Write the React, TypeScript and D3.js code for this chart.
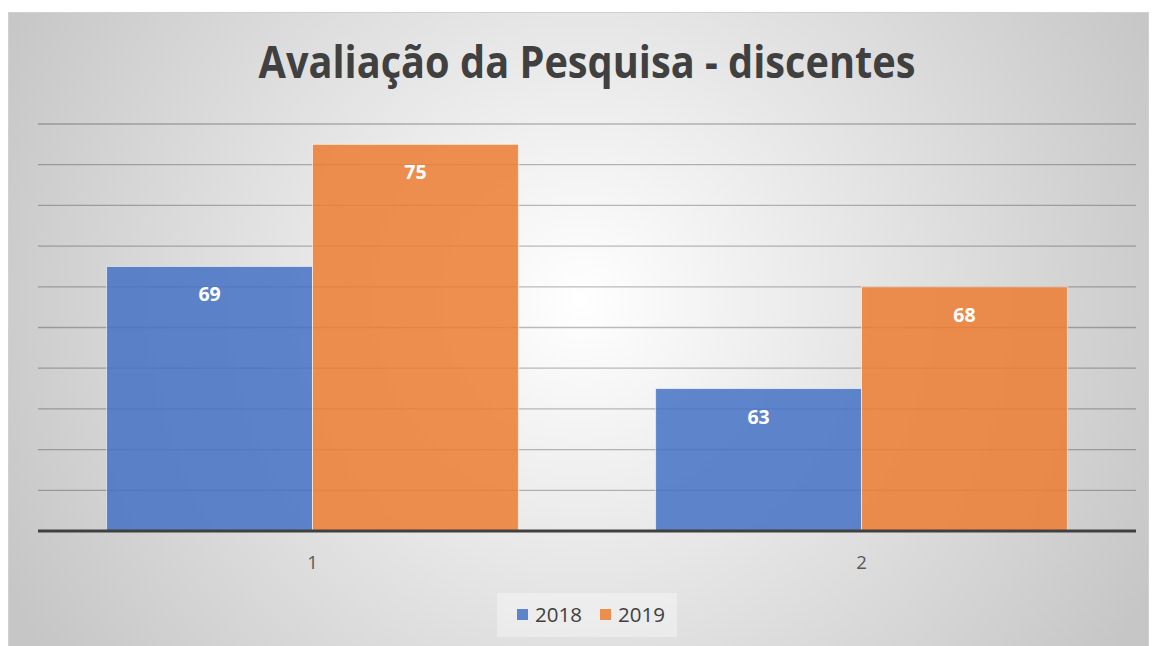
import React, { useEffect, useRef } from 'react';
import * as d3 from 'd3';

const categories = ['1', '2'];
const seriesNames = ['2018', '2019'];
const values2018 = [69, 63];
const values2019 = [75, 68];
const seriesColors = ['#4472c4', '#ed7d31'];
const chartTitle = 'Avaliação da Pesquisa - discentes';

const W = 1153;
const H = 646;

const App = () => {
  const svgRef = useRef<SVGSVGElement>(null);

  useEffect(() => {
    const svg = d3.select(svgRef.current);
    svg.selectAll('*').remove();

    const margin = { top: 124, right: 17, bottom: 115, left: 38 };
    const innerW = W - margin.left - margin.right;
    const innerH = H - margin.top - margin.bottom;

    // background
    const defs = svg.append('defs');
    const grad = defs.append('radialGradient')
      .attr('id', 'bg').attr('gradientUnits', 'userSpaceOnUse')
      .attr('cx', 580).attr('cy', 300).attr('r', 640);
    grad.append('stop').attr('offset', '0%').attr('stop-color', '#ffffff');
    grad.append('stop').attr('offset', '100%').attr('stop-color', '#c6c6c6');

    svg.append('rect')
      .attr('x', 8.5).attr('y', 12.5).attr('width', 1140).attr('height', 640)
      .attr('fill', 'url(#bg)').attr('stroke', '#d0d0d0');

    svg.append('text')
      .attr('x', 587).attr('y', 78)
      .attr('text-anchor', 'middle')
      .attr('font-family', 'Open Sans, sans-serif')
      .attr('font-weight', 700)
      .attr('font-size', 44)
      .attr('textLength', 657)
      .attr('lengthAdjust', 'spacingAndGlyphs')
      .attr('fill', '#404040')
      .text(chartTitle);

    const rows = categories.map((c, i) => ({ cat: c, vals: [values2018[i], values2019[i]] }));

    const x0 = d3.scaleBand().domain(categories).range([0, innerW]).paddingInner(0).paddingOuter(0);
    const x1 = d3.scaleBand().domain(seriesNames).range([0, x0.bandwidth()]).paddingInner(0).paddingOuter(0.333);
    const y = d3.scaleLinear().domain([56, 76]).range([innerH, 0]);

    const g = svg.append('g').attr('transform', `translate(${margin.left},${margin.top})`);

    // gridlines
    g.selectAll('.grid')
      .data(y.ticks(10).filter(t => t > 56))
      .join('line')
      .attr('x1', 0).attr('x2', innerW)
      .attr('y1', d => y(d)).attr('y2', d => y(d))
      .attr('stroke', '#000').attr('stroke-opacity', 0.26).attr('stroke-width', 1.3);

    const groups = g.selectAll('.grp')
      .data(rows)
      .join('g')
      .attr('transform', d => `translate(${x0(d.cat)},0)`);

    groups.selectAll('rect')
      .data(d => d.vals.map((v, i) => ({ key: seriesNames[i], v, i })))
      .join('rect')
      .attr('x', d => x1(d.key)!)
      .attr('width', x1.bandwidth())
      .attr('y', d => y(d.v))
      .attr('height', d => innerH - y(d.v))
      .attr('fill', d => seriesColors[d.i])
      .attr('fill-opacity', 0.85)
      .attr('stroke', '#ffffff').attr('stroke-opacity', 0.6).attr('stroke-width', 1);

    groups.selectAll('.lbl')
      .data(d => d.vals.map((v, i) => ({ key: seriesNames[i], v, i })))
      .join('text')
      .attr('x', d => x1(d.key)! + x1.bandwidth() / 2)
      .attr('y', d => y(d.v) + 35)
      .attr('text-anchor', 'middle')
      .attr('font-family', 'Open Sans, sans-serif')
      .attr('font-weight', 700)
      .attr('font-size', 19.5)
      .attr('fill', '#ffffff')
      .text(d => d.v);

    // baseline
    g.append('line')
      .attr('x1', 0).attr('x2', innerW)
      .attr('y1', innerH).attr('y2', innerH)
      .attr('stroke', '#404040').attr('stroke-width', 3);

    // category labels
    g.selectAll('.cat')
      .data(categories)
      .join('text')
      .attr('x', d => x0(d)! + x0.bandwidth() / 2)
      .attr('y', innerH + 38)
      .attr('text-anchor', 'middle')
      .attr('font-family', 'Open Sans, sans-serif')
      .attr('font-size', 18.5)
      .attr('fill', '#595959')
      .text(d => d);

    // legend
    const lg = svg.append('g');
    lg.append('rect')
      .attr('x', 497).attr('y', 593).attr('width', 180).attr('height', 44)
      .attr('fill', '#ffffff').attr('fill-opacity', 0.35);
    const legX = [517, 600];
    seriesNames.forEach((s, i) => {
      lg.append('rect')
        .attr('x', legX[i]).attr('y', 609).attr('width', 11).attr('height', 11)
        .attr('fill', seriesColors[i]).attr('fill-opacity', 0.85);
      lg.append('text')
        .attr('x', legX[i] + 18).attr('y', 622)
        .attr('font-family', 'Open Sans, sans-serif')
        .attr('font-size', 20.5)
        .attr('fill', '#404040')
        .text(s);
    });
  }, []);

  return (
    <svg ref={svgRef} width={W} height={H}
      style={{ position: 'absolute', left: 0, top: 0, display: 'block' }} />
  );
};

export default App;
